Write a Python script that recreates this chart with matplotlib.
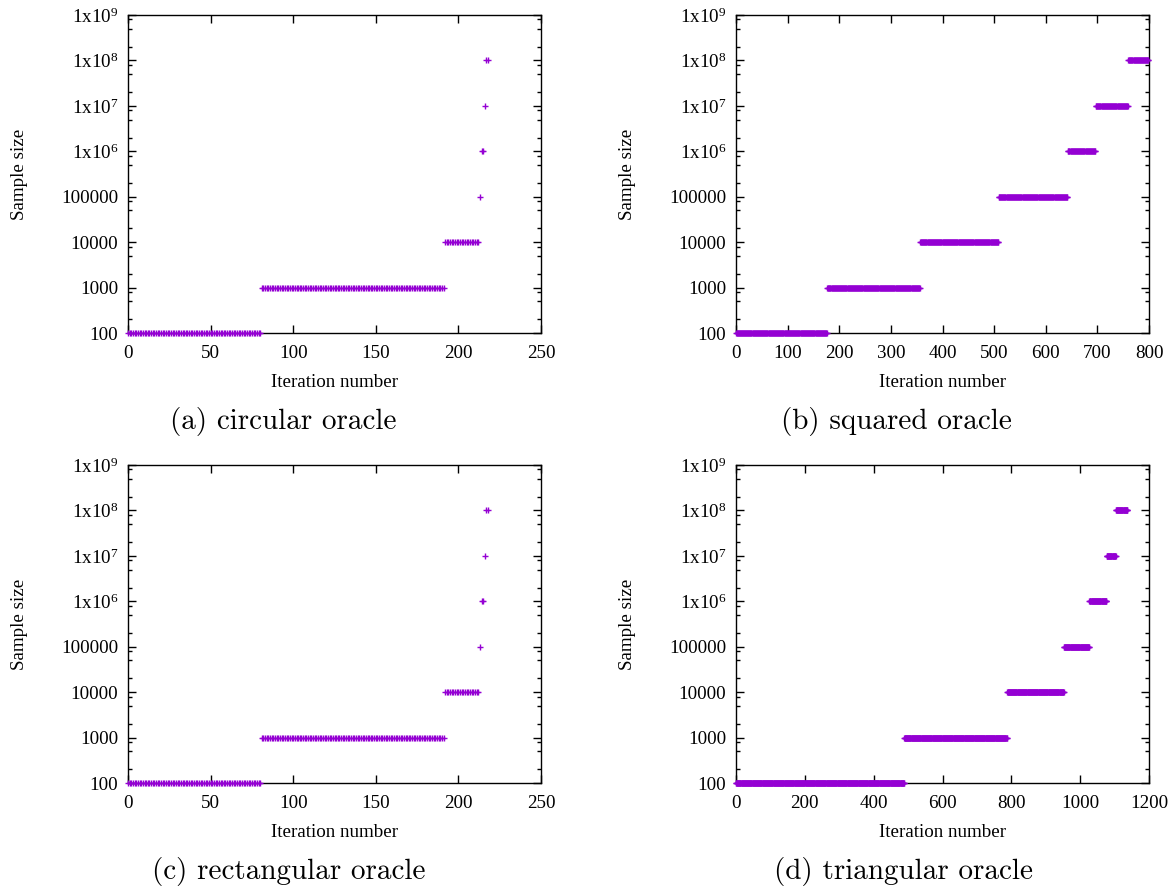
import numpy as np
import matplotlib
matplotlib.use("Agg")
import matplotlib.pyplot as plt
from matplotlib.ticker import FixedLocator, LogLocator, NullFormatter

plt.rcParams['font.family'] = ['Liberation Serif', 'DejaVu Serif']
plt.rcParams['mathtext.fontset'] = 'custom'
plt.rcParams['mathtext.rm'] = 'Liberation Serif'
plt.rcParams['mathtext.it'] = 'Liberation Serif:italic'

# ---- data: runs of iterations sharing one sample size ----
levels = [100, 1000, 10000, 100000, 1000000, 10000000, 100000000]

circ_start = [0, 81, 192, 213, 214, 216, 217]
circ_end   = [80, 191, 212, 213, 215, 216, 218]

sq_start = [0, 177, 357, 509, 643, 697, 760]
sq_end   = [176, 356, 508, 642, 696, 759, 799]

rect_start = [0, 81, 192, 213, 214, 216, 217]
rect_end   = [80, 191, 212, 213, 215, 216, 218]

tri_start = [0, 489, 788, 953, 1027, 1077, 1104]
tri_end   = [488, 787, 952, 1026, 1076, 1103, 1137]

ytick_vals = [1e2, 1e3, 1e4, 1e5, 1e6, 1e7, 1e8, 1e9]
ytick_labels = ['100', '1000', '10000', '100000',
                r'1x10$^{\mathrm{6}}$', r'1x10$^{\mathrm{7}}$',
                r'1x10$^{\mathrm{8}}$', r'1x10$^{\mathrm{9}}$']

captions = ['(a) circular oracle', '(b) squared oracle',
            '(c) rectangular oracle', '(d) triangular oracle']
xmaxes = [250, 800, 250, 1200]
xsteps = [50, 100, 50, 200]
runs = [(circ_start, circ_end), (sq_start, sq_end),
        (rect_start, rect_end), (tri_start, tri_end)]

W, H = 1174, 892
fig = plt.figure(figsize=(W / 100, H / 100), dpi=100)

boxes = [(128, 541, 15, 333), (736, 1149, 15, 333),
         (128, 541, 465, 783), (736, 1149, 465, 783)]
cap_x = [283, 896, 289, 903]
cap_y = [422, 422, 872, 872]

color = '#9400D3'

for i in range(4):
    l, r, t, b = boxes[i]
    ax = fig.add_axes([l / W, 1 - b / H, (r - l) / W, (b - t) / H])
    starts, ends = runs[i]
    xs, ys = [], []
    for s, e, lv in zip(starts, ends, levels):
        it = np.arange(s, e + 1)
        xs.append(it)
        ys.append(np.full(it.shape, lv, dtype=float))
    xs = np.concatenate(xs)
    ys = np.concatenate(ys)
    ax.plot(xs, ys, linestyle='none', marker='+', markersize=4.2,
            markeredgewidth=1.0, color=color, clip_on=False, zorder=3)
    ax.set_yscale('log')
    ax.set_ylim(100, 1e9)
    ax.set_xlim(0, xmaxes[i])
    ax.xaxis.set_major_locator(FixedLocator(np.arange(0, xmaxes[i] + 1, xsteps[i])))
    ax.yaxis.set_major_locator(FixedLocator(ytick_vals))
    ax.set_yticklabels(ytick_labels)
    ax.yaxis.set_minor_locator(LogLocator(base=10, subs=[2.0, 5.0, 8.0]))
    ax.yaxis.set_minor_formatter(NullFormatter())
    ax.tick_params(axis='both', which='both', direction='in',
                   top=True, right=True, labelsize=13.7, width=1.0)
    ax.tick_params(axis='both', which='major', length=6)
    ax.tick_params(axis='both', which='minor', length=3)
    ax.tick_params(axis='x', pad=9)
    ax.tick_params(axis='y', pad=7)
    for sp in ax.spines.values():
        sp.set_linewidth(1.0)
    ax.set_xlabel('Iteration number', fontsize=13.7, labelpad=8)
    ax.set_ylabel('Sample size', fontsize=13.7, labelpad=24)
    fig.text(cap_x[i] / W, 1 - cap_y[i] / H, captions[i], family='cmr10',
             fontsize=21, ha='center', va='center')

fig.savefig('out.png', dpi=100)
